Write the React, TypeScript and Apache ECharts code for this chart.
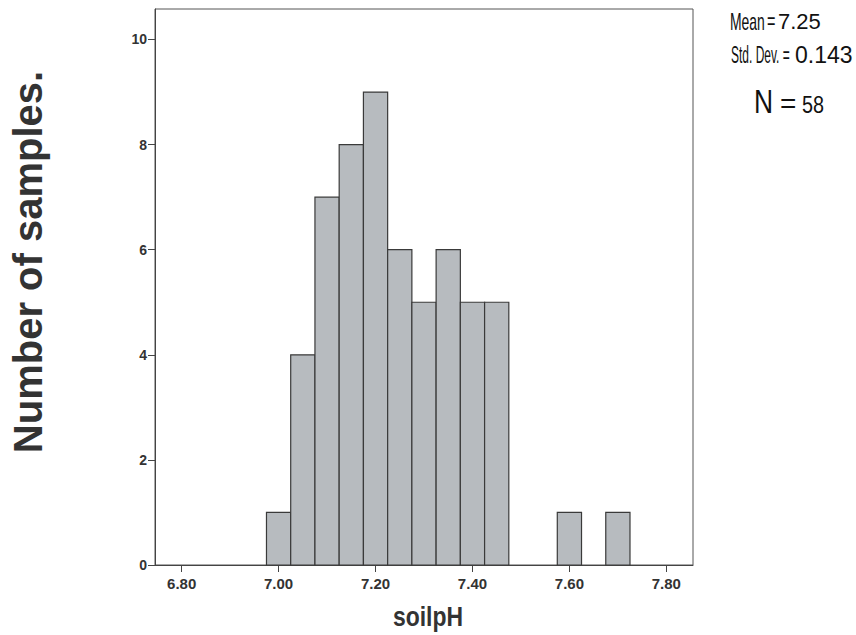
import React, { useEffect, useRef } from "react";
import * as echarts from "echarts";

const binCenters = [7.0, 7.05, 7.1, 7.15, 7.2, 7.25, 7.3, 7.35, 7.4, 7.45, 7.5, 7.55, 7.6, 7.65, 7.7];
const counts = [1, 4, 7, 8, 9, 6, 5, 6, 5, 5, 0, 0, 1, 0, 1];
const binWidth = 0.05;
const xTicks = [6.8, 7.0, 7.2, 7.4, 7.6, 7.8];
const yTicks = [0, 2, 4, 6, 8, 10];
const statMean = "7.25";
const statStd = "0.143";
const statN = "58";

export default function App() {
  const ref = useRef<HTMLDivElement>(null);
  useEffect(() => {
    if (!ref.current) return;
    const chart = echarts.init(ref.current, null, { renderer: "svg" });
    const data = binCenters.map((c, i) => [c, counts[i]]);
    const sans = "'Liberation Sans', Arial, Helvetica, sans-serif";
    chart.setOption({
      animation: false,
      backgroundColor: "#ffffff",
      grid: {
        left: 155,
        right: 163,
        top: 9,
        bottom: 70,
        show: true,
        borderColor: "#555",
        borderWidth: 1,
        backgroundColor: "transparent",
      },
      xAxis: {
        type: "value",
        min: 6.745,
        max: 7.855,
        splitLine: { show: false },
        axisLine: { show: true, onZero: false, lineStyle: { color: "#444", width: 1 } },
        axisTick: { show: true, customValues: xTicks, length: 7, lineStyle: { color: "#444" } },
        axisLabel: {
          customValues: xTicks,
          formatter: (v: number) => v.toFixed(2),
          margin: 11,
          fontFamily: sans,
          fontWeight: "bold",
          fontSize: 15,
          color: "#333",
        },
      },
      yAxis: {
        type: "value",
        min: 0,
        max: 10.58,
        splitLine: { show: false },
        axisLine: { show: true, lineStyle: { color: "#444", width: 1 } },
        axisTick: { show: true, customValues: yTicks, length: 7, lineStyle: { color: "#444" } },
        axisLabel: {
          customValues: yTicks,
          margin: 8,
          fontFamily: sans,
          fontWeight: "bold",
          fontSize: 14,
          color: "#333",
        },
      },
      series: [
        {
          type: "custom",
          data,
          encode: { x: 0, y: 1 },
          renderItem: (params: any, api: any) => {
            const c = api.value(0);
            const v = api.value(1);
            if (!v) return null;
            const p0 = api.coord([c - binWidth / 2, v]);
            const p1 = api.coord([c + binWidth / 2, 0]);
            return {
              type: "rect",
              shape: { x: p0[0], y: p0[1], width: p1[0] - p0[0], height: p1[1] - p0[1] },
              style: { fill: "#b7bbbf", stroke: "#3a3a3a", lineWidth: 1.2 },
            };
          },
        },
      ],
      graphic: [
        {
          type: "text",
          x: 28,
          y: 262,
          rotation: Math.PI / 2,
          style: {
            text: "Number of samples.",
            font: `bold 40px ${sans}`,
            fill: "#333",
            align: "center",
            verticalAlign: "middle",
          },
        },
        {
          type: "text",
          x: 428,
          y: 616,
          scaleX: 0.85,
          style: {
            text: "soilpH",
            font: `bold 27px ${sans}`,
            fill: "#333",
            align: "center",
            verticalAlign: "middle",
          },
        },
        // Mean line
        {
          type: "text",
          x: 730,
          y: 21,
          scaleX: 0.58,
          style: { text: "Mean", font: `24px ${sans}`, fill: "#111", align: "left", verticalAlign: "middle" },
        },
        {
          type: "text",
          x: 767,
          y: 21,
          scaleX: 0.6,
          style: { text: "=", font: `24px ${sans}`, fill: "#111", align: "left", verticalAlign: "middle" },
        },
        {
          type: "text",
          x: 778,
          y: 21,
          style: { text: statMean, font: `22px ${sans}`, fill: "#111", align: "left", verticalAlign: "middle" },
        },
        // Std Dev line
        {
          type: "text",
          x: 731,
          y: 55,
          scaleX: 0.5,
          style: { text: "Std. Dev. =", font: `24px ${sans}`, fill: "#111", align: "left", verticalAlign: "middle" },
        },
        {
          type: "text",
          x: 795,
          y: 55,
          style: { text: statStd, font: `23px ${sans}`, fill: "#111", align: "left", verticalAlign: "middle" },
        },
        // N line
        {
          type: "text",
          x: 754,
          y: 101,
          scaleX: 0.8,
          style: { text: "N", font: `33px ${sans}`, fill: "#111", align: "left", verticalAlign: "middle" },
        },
        {
          type: "text",
          x: 780,
          y: 103,
          style: { text: "=", font: `28px ${sans}`, fill: "#111", align: "left", verticalAlign: "middle" },
        },
        {
          type: "text",
          x: 802,
          y: 105,
          scaleX: 0.86,
          style: { text: statN, font: `23px ${sans}`, fill: "#111", align: "left", verticalAlign: "middle" },
        },
      ],
    });
    return () => chart.dispose();
  }, []);
  return (
    <div
      ref={ref}
      style={{ position: "absolute", left: 0, top: 0, width: 856, height: 635, background: "#fff" }}
    />
  );
}
